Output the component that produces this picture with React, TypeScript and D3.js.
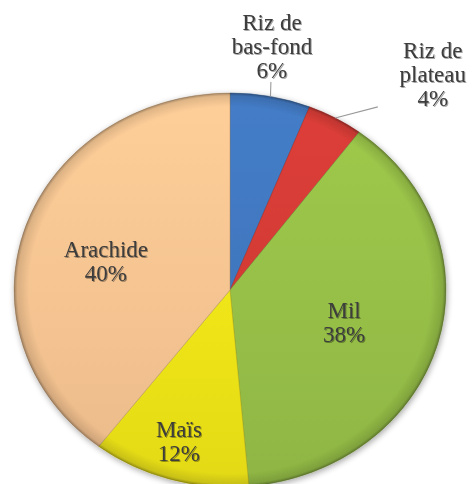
import React, { useMemo } from "react";
import * as d3 from "d3";

// ---- data ----
const categories: string[] = ["Riz de bas-fond", "Riz de plateau", "Mil", "Maïs", "Arachide"];
const labelLines: string[][] = [["Riz de", "bas-fond"], ["Riz de", "plateau"], ["Mil"], ["Maïs"], ["Arachide"]];
const values: number[] = [6, 4.2, 38.4, 11.8, 39.6];
const colors: string[] = ["#4178c0", "#d53b36", "#98c248", "#f2e81a", "#fbc693"];

// ---- layout ----
const W = 472;
const H = 484;
const CX = 230;
const CY = 290;
const RX = 216;
const RY = 197;
const FONT = 23;
const LINE_H = 24;
const FONT_FAMILY = '"Liberation Serif", "DejaVu Serif", "Noto Serif", "Times New Roman", serif';
// label placement: angle delta from mid-angle (deg) and radius fraction
const labelLayout = [
  { dAngle: -1.9, r: 1.254, leader: [-1, 36] as [number, number] | null },
  { dAngle: 11.4, r: 1.444, leader: [-55, 33] as [number, number] | null },
  { dAngle: 1.1, r: 0.552, leader: null },
  { dAngle: 1.0, r: 0.8, leader: null },
  { dAngle: -4.3, r: 0.593, leader: null },
];

function polar(angleRad: number, frac: number): [number, number] {
  return [CX + RX * frac * Math.sin(angleRad), CY - RY * frac * Math.cos(angleRad)];
}

export default function App() {
  const arcs = useMemo(() => d3.pie<number>().sort(null).value((d) => d)(values), []);
  const arcGen = d3.arc<d3.PieArcDatum<number>>().innerRadius(0).outerRadius(RY);
  const sx = RX / RY;

  return (
    <svg width={W} height={H} style={{ display: "block", position: "absolute", left: 0, top: 0 }}>
      <defs>
        {colors.map((c, i) => {
          const col = d3.color(c)!;
          return (
            <linearGradient key={i} id={`g${i}`} gradientUnits="userSpaceOnUse" x1={0} y1={-RY} x2={0} y2={RY}>
              <stop offset="0" stopColor={col.brighter(0.12).formatHex()} />
              <stop offset="1" stopColor={col.darker(0.18).formatHex()} />
            </linearGradient>
          );
        })}
        <radialGradient id="edge" cx="0" cy="0" r={RY} gradientUnits="userSpaceOnUse">
          <stop offset="0.93" stopColor="#000" stopOpacity="0" />
          <stop offset="0.985" stopColor="#000" stopOpacity="0.12" />
          <stop offset="1" stopColor="#000" stopOpacity="0.35" />
        </radialGradient>
        <filter id="shadow" x="-10%" y="-10%" width="120%" height="120%">
          <feGaussianBlur in="SourceAlpha" stdDeviation="3" />
          <feOffset dx="1" dy="2" result="b" />
          <feComponentTransfer>
            <feFuncA type="linear" slope="0.35" />
          </feComponentTransfer>
          <feMerge>
            <feMergeNode />
            <feMergeNode in="SourceGraphic" />
          </feMerge>
        </filter>
        <filter id="tshadow" x="-20%" y="-20%" width="140%" height="140%">
          <feGaussianBlur in="SourceAlpha" stdDeviation="0.6" />
          <feOffset dx="0.8" dy="0.8" />
          <feComponentTransfer>
            <feFuncA type="linear" slope="0.35" />
          </feComponentTransfer>
          <feMerge>
            <feMergeNode />
            <feMergeNode in="SourceGraphic" />
          </feMerge>
        </filter>
      </defs>
      <rect width={W} height={H} fill="#ffffff" />
      <g transform={`translate(${CX},${CY}) scale(${sx},1)`} filter="url(#shadow)">
        {arcs.map((a, i) => (
          <path
            key={categories[i]}
            d={arcGen(a) || ""}
            fill={`url(#g${i})`}
            stroke={d3.color(colors[i])!.darker(0.9).formatHex()}
            strokeOpacity={0.55}
            strokeWidth={0.9}
            vectorEffect="non-scaling-stroke"
          />
        ))}
        <circle r={RY} fill="url(#edge)" />
      </g>
      {arcs.map((a, i) => {
        const L = labelLayout[i];
        const mid = (a.startAngle + a.endAngle) / 2;
        const ang = mid + (L.dAngle * Math.PI) / 180;
        const [lx, ly] = polar(ang, L.r);
        const lines = [...labelLines[i], `${Math.round(a.data)}%`];
        const firstBase = ly - ((lines.length - 1) * LINE_H) / 2 + 8;
        const edge = polar(mid, 1);
        return (
          <g key={`l${i}`}>
            {L.leader && (
              <line
                x1={edge[0]}
                y1={edge[1]}
                x2={lx + L.leader[0]}
                y2={ly + L.leader[1]}
                stroke="#9a9a9a"
                strokeWidth={1.1}
              />
            )}
            <text
              x={lx}
              y={firstBase}
              textAnchor="middle"
              style={{ fontFamily: FONT_FAMILY, fontSize: FONT }}
              fill="#3c3c3c"
              filter="url(#tshadow)"
            >
              {lines.map((t, k) => (
                <tspan key={k} x={lx} y={firstBase + k * LINE_H}>
                  {t}
                </tspan>
              ))}
            </text>
          </g>
        );
      })}
    </svg>
  );
}
